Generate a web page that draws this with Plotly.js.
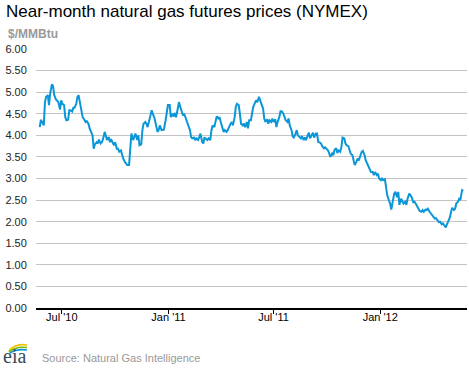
<!DOCTYPE html>
<html><head><meta charset="utf-8">
<script src="https://cdn.plot.ly/plotly-3.0.1.min.js"></script>
<style>html,body{margin:0;padding:0;background:#fff;}#chart{width:469px;height:370px;}</style>
</head><body><div id="chart"></div>
<script>
const chartTitle = 'Near-month natural gas futures prices (NYMEX)';
const unitLabel = '$/MMBtu';
const sourceText = 'Source: Natural Gas Intelligence';
const logoText = 'eia';
const tickDates = ['2010-07-01','2011-01-01','2011-07-01','2012-01-01'];
const tickLabels = ["Jul '10","Jan '11","Jul '11","Jan '12"];

const dates = [
'2010-05-24','2010-05-26','2010-05-28','2010-05-31','2010-06-02','2010-06-04','2010-06-07','2010-06-09','2010-06-11','2010-06-14',
'2010-06-16','2010-06-18','2010-06-21','2010-06-23','2010-06-25','2010-06-28','2010-06-30','2010-07-02','2010-07-05','2010-07-07',
'2010-07-09','2010-07-12','2010-07-14','2010-07-16','2010-07-19','2010-07-21','2010-07-23','2010-07-26','2010-07-28','2010-07-30',
'2010-08-02','2010-08-04','2010-08-06','2010-08-09','2010-08-11','2010-08-13','2010-08-16','2010-08-18','2010-08-20','2010-08-23',
'2010-08-25','2010-08-27','2010-08-30','2010-09-01','2010-09-03','2010-09-06','2010-09-08','2010-09-10','2010-09-13','2010-09-15',
'2010-09-17','2010-09-20','2010-09-22','2010-09-24','2010-09-27','2010-09-29','2010-10-01','2010-10-04','2010-10-06','2010-10-08',
'2010-10-11','2010-10-13','2010-10-15','2010-10-18','2010-10-20','2010-10-22','2010-10-25','2010-10-27','2010-10-29','2010-11-01',
'2010-11-03','2010-11-05','2010-11-08','2010-11-10','2010-11-12','2010-11-15',
'2010-11-17','2010-11-19','2010-11-22','2010-11-24','2010-11-26','2010-11-29','2010-12-01','2010-12-03','2010-12-06','2010-12-08',
'2010-12-10','2010-12-13','2010-12-15','2010-12-17','2010-12-20','2010-12-22','2010-12-24','2010-12-27','2010-12-29','2010-12-31',
'2011-01-03','2011-01-05','2011-01-07','2011-01-10','2011-01-12','2011-01-14','2011-01-17','2011-01-19','2011-01-21','2011-01-24',
'2011-01-26','2011-01-28','2011-01-31','2011-02-02','2011-02-04','2011-02-07','2011-02-09','2011-02-11','2011-02-14','2011-02-16',
'2011-02-18','2011-02-21','2011-02-23','2011-02-25','2011-02-28','2011-03-02','2011-03-04','2011-03-07','2011-03-09','2011-03-11',
'2011-03-14','2011-03-16','2011-03-18','2011-03-21','2011-03-23','2011-03-25','2011-03-28','2011-03-30','2011-04-01','2011-04-04',
'2011-04-06','2011-04-08','2011-04-11','2011-04-13','2011-04-15','2011-04-18','2011-04-20','2011-04-22','2011-04-25','2011-04-27',
'2011-04-29','2011-05-02','2011-05-04','2011-05-06','2011-05-09','2011-05-11','2011-05-13','2011-05-16','2011-05-18','2011-05-20',
'2011-05-23','2011-05-25','2011-05-27','2011-05-30','2011-06-01','2011-06-03','2011-06-06','2011-06-08','2011-06-10','2011-06-13',
'2011-06-15','2011-06-17','2011-06-20','2011-06-22','2011-06-24','2011-06-27','2011-06-29','2011-07-01','2011-07-04','2011-07-06',
'2011-07-08','2011-07-11','2011-07-13','2011-07-15','2011-07-18','2011-07-20','2011-07-22','2011-07-25','2011-07-27','2011-07-29',
'2011-08-01','2011-08-03','2011-08-05','2011-08-08','2011-08-10','2011-08-12','2011-08-15','2011-08-17','2011-08-19','2011-08-22',
'2011-08-24','2011-08-26','2011-08-29','2011-08-31','2011-09-02','2011-09-05','2011-09-07','2011-09-09','2011-09-12','2011-09-14',
'2011-09-16','2011-09-19','2011-09-21','2011-09-23','2011-09-26','2011-09-28','2011-09-30','2011-10-03','2011-10-05','2011-10-07',
'2011-10-10','2011-10-12','2011-10-14','2011-10-17','2011-10-19','2011-10-21','2011-10-24','2011-10-26','2011-10-28','2011-10-31',
'2011-11-02','2011-11-04','2011-11-07','2011-11-09','2011-11-11',
'2011-11-14','2011-11-16','2011-11-18','2011-11-21','2011-11-23','2011-11-25','2011-11-28','2011-11-30','2011-12-02','2011-12-05',
'2011-12-07','2011-12-09','2011-12-12','2011-12-14','2011-12-16','2011-12-19','2011-12-21','2011-12-23','2011-12-26','2011-12-28',
'2011-12-30','2012-01-02','2012-01-04','2012-01-06','2012-01-09','2012-01-11','2012-01-13','2012-01-16','2012-01-18','2012-01-20',
'2012-01-23','2012-01-25','2012-01-27','2012-01-30','2012-02-01','2012-02-03','2012-02-06','2012-02-08','2012-02-10','2012-02-13',
'2012-02-15','2012-02-17','2012-02-20','2012-02-22','2012-02-24','2012-02-27','2012-02-29','2012-03-02','2012-03-05','2012-03-07',
'2012-03-09','2012-03-12','2012-03-14','2012-03-16','2012-03-19','2012-03-21','2012-03-23','2012-03-26','2012-03-28','2012-03-30',
'2012-04-02','2012-04-04','2012-04-06','2012-04-09','2012-04-11','2012-04-13','2012-04-16','2012-04-18','2012-04-20','2012-04-23',
'2012-04-25','2012-04-27','2012-04-30','2012-05-02','2012-05-04','2012-05-07','2012-05-09','2012-05-11','2012-05-14','2012-05-16',
'2012-05-18','2012-05-21','2012-05-23'
];

const prices = [
4.19,4.36,4.31,4.23,4.77,4.89,4.93,4.70,4.97,5.18,
5.14,4.93,4.83,4.81,4.77,4.60,4.81,4.73,4.70,4.42,
4.35,4.36,4.58,4.58,4.55,4.64,4.64,4.73,4.89,4.93,
4.73,4.61,4.42,4.36,4.31,4.33,4.27,4.16,4.09,4.00,
3.69,3.79,3.84,3.81,3.90,3.81,3.84,3.91,4.08,4.00,
3.89,3.96,3.84,3.91,3.84,3.77,3.84,3.69,3.69,3.62,
3.65,3.54,3.46,3.38,3.33,3.31,3.31,3.81,4.04,3.89,
3.96,4.04,3.89,4.00,3.77,3.79,
4.12,4.27,4.31,4.27,4.19,4.39,4.46,4.58,4.46,4.39,
4.27,4.08,4.12,4.23,4.12,4.12,4.13,4.35,4.54,4.70,
4.70,4.42,4.50,4.44,4.52,4.42,4.62,4.77,4.67,4.54,
4.46,4.50,4.39,4.31,4.23,4.12,3.96,3.93,3.95,3.89,
3.93,3.89,3.96,4.04,3.85,3.81,3.95,3.90,3.89,3.93,
3.89,4.12,4.23,4.19,4.31,4.44,4.39,4.42,4.31,4.19,
4.08,4.12,4.08,4.12,4.19,4.27,4.31,4.23,4.42,4.66,
4.73,4.70,4.50,4.27,4.23,4.27,4.19,4.31,4.16,4.35,
4.35,4.50,4.66,4.75,4.81,4.77,4.89,4.81,4.72,4.62,
4.39,4.31,4.37,4.27,4.35,4.31,4.39,4.31,4.37,4.19,
4.31,4.42,4.56,4.56,4.50,4.42,4.35,4.31,4.39,4.23,
4.12,3.98,3.95,4.04,4.12,4.00,3.96,3.93,3.98,3.89,
3.95,3.89,4.00,4.06,3.93,4.00,4.06,3.95,4.04,4.04,
3.85,3.83,3.81,3.75,3.70,3.72,3.70,3.65,3.58,3.50,
3.58,3.54,3.66,3.70,3.59,3.65,3.62,3.73,3.95,3.93,
3.81,3.77,3.75,3.66,3.58,
3.54,3.42,3.31,3.39,3.46,3.42,3.54,3.62,3.64,3.54,
3.42,3.35,3.27,3.19,3.15,3.15,3.08,3.15,3.08,3.11,
3.00,2.96,3.00,2.96,2.98,2.80,2.61,2.49,2.42,2.28,
2.46,2.65,2.69,2.57,2.69,2.39,2.53,2.46,2.42,2.46,
2.39,2.53,2.65,2.61,2.57,2.45,2.46,2.42,2.34,2.32,
2.25,2.23,2.27,2.23,2.28,2.27,2.30,2.23,2.19,2.15,
2.10,2.07,2.08,2.02,1.99,2.00,1.94,1.96,1.91,1.87,
1.94,1.99,2.10,2.23,2.32,2.27,2.30,2.42,2.46,2.53,
2.50,2.73,2.71
];

const W = 469, H = 370, L = 36, R = 2.3, T = 49.3, B = 62;
const PW = W - L - R, PH = H - T - B;
const px = x => (x - L) / PW;
const py = y => (H - B - y) / PH;
const F = 'Liberation Sans, Arial, sans-serif';

function arc(x0, y0, cx, cy, x1, y1, color) {
  return {type: 'path', xref: 'paper', yref: 'paper',
    path: `M ${px(x0)},${py(y0)} Q ${px(cx)},${py(cy)} ${px(x1)},${py(y1)}`,
    line: {color: color, width: 1.6}};
}

const trace = {
  type: 'scatter', mode: 'lines', x: dates, y: prices,
  line: {color: '#0b96d7', width: 2}, hoverinfo: 'skip'
};

const layout = {
  width: W, height: H,
  margin: {l: L, r: R, t: T, b: B, pad: 0},
  paper_bgcolor: '#ffffff', plot_bgcolor: '#ffffff',
  showlegend: false,
  font: {family: F, size: 11, color: '#222'},
  title: {text: chartTitle, font: {family: F, size: 17, color: '#000'},
    xref: 'container', x: 6 / W, xanchor: 'left',
    yref: 'container', y: 1 - 11 / H, yanchor: 'middle'},
  xaxis: {type: 'date', range: ['2010-05-17 14:00', '2012-05-29 12:00'],
    tickmode: 'array', tickvals: tickDates, ticktext: tickLabels,
    ticks: 'outside', ticklen: 4, tickwidth: 1, tickcolor: '#000',
    ticklabelstandoff: -6,
    showgrid: false, zeroline: false, showline: true, linecolor: '#000', linewidth: 2,
    tickfont: {family: F, size: 11, color: '#000'}},
  yaxis: {range: [0, 6], tick0: 0, dtick: 0.5, tickformat: '.2f',
    showgrid: true, gridcolor: '#c4c4c4', gridwidth: 1,
    zeroline: false, showline: false,
    ticks: 'outside', ticklen: 6, tickcolor: 'rgba(0,0,0,0)',
    tickfont: {family: F, size: 11, color: '#222'}},
  annotations: [
    {text: '<b>' + unitLabel + '</b>', xref: 'paper', yref: 'paper', x: px(6), y: py(34),
      xanchor: 'left', yanchor: 'middle', showarrow: false,
      font: {family: F, size: 12, color: '#999'}},
    {text: sourceText, xref: 'paper', yref: 'paper', x: px(40), y: py(358),
      xanchor: 'left', yanchor: 'middle', showarrow: false,
      font: {family: F, size: 11, color: '#999'}},
    {text: logoText, xref: 'paper', yref: 'paper', x: px(1), y: py(356),
      xanchor: 'left', yanchor: 'middle', showarrow: false,
      font: {family: 'Liberation Serif, DejaVu Serif, serif', size: 20, color: '#3b4a5a'}}
  ],
  shapes: [
    arc(9, 351, 15, 343, 27, 345, '#f2c200'),
    arc(9, 352, 16, 346, 27, 347.5, '#7ab800'),
    arc(10, 353, 17, 348.5, 27, 350, '#0b96d7')
  ]
};

Plotly.newPlot('chart', [trace], layout, {staticPlot: true, displayModeBar: false});
</script>
</body></html>
